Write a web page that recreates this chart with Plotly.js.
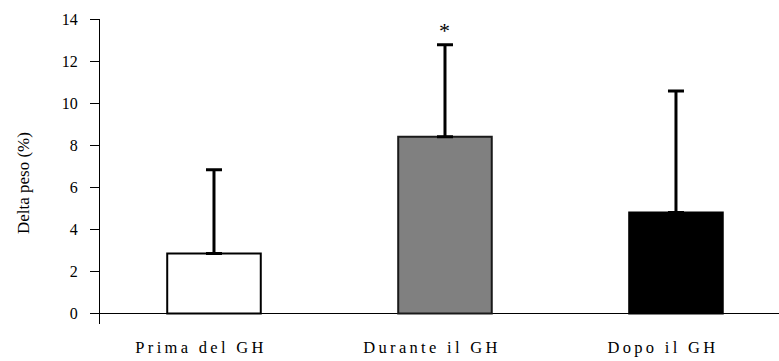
<!DOCTYPE html>
<html>
<head>
<meta charset="utf-8">
<script src="https://cdn.plot.ly/plotly-3.0.1.min.js"></script>
<style>
  html, body { margin: 0; padding: 0; background: #fff; }
  #chart { width: 779px; height: 361px; }
  .xtick text { letter-spacing: 3.3px; }
</style>
</head>
<body>
<div id="chart"></div>
<script>
const categories = ['Prima del GH', 'Durante il GH', 'Dopo il GH'];
const means = [2.85, 8.4, 4.8];
const errorsUp = [3.98, 4.37, 5.78];
const errorsDown = [0, 0, 0];
const yTicks = [0, 2, 4, 6, 8, 10, 12, 14];
const significance = ['', '*', ''];

const xIdx = categories.map((_, i) => i);
const serif = '"Liberation Serif", "Times New Roman", Times, serif';

const trace = {
  type: 'bar',
  x: xIdx,
  y: means,
  width: 0.405,
  marker: {
    color: ['#ffffff', '#808080', '#000000'],
    line: { color: ['#000000', '#1a1a1a', '#000000'], width: 2 }
  },
  error_y: {
    type: 'data',
    symmetric: false,
    array: errorsUp,
    arrayminus: errorsDown,
    color: '#000000',
    thickness: 3,
    width: 8
  },
  hoverinfo: 'none'
};

const annotations = [];
significance.forEach((s, i) => {
  if (s) {
    annotations.push({
      x: i, y: means[i] + errorsUp[i], xref: 'x', yref: 'y',
      text: s, showarrow: false, yanchor: 'bottom', yshift: 0,
      font: { family: serif, size: 22, color: '#000' }
    });
  }
});
annotations.push({
  xref: 'paper', yref: 'paper', x: 0, y: 0.462,
  xshift: -77, xanchor: 'center', yanchor: 'middle',
  text: 'Delta peso (%)', textangle: -90, showarrow: false,
  font: { family: serif, size: 17, color: '#000' }
});

const layout = {
  width: 779,
  height: 361,
  margin: { l: 100, r: 0, t: 19, b: 37, pad: 0 },
  paper_bgcolor: '#ffffff',
  plot_bgcolor: '#ffffff',
  showlegend: false,
  font: { family: serif, color: '#000' },
  xaxis: {
    range: [-0.4935, 2.446],
    tickvals: xIdx,
    ticktext: categories,
    showline: false,
    showgrid: false,
    zeroline: false,
    ticks: '',
    ticklabelshift: -13,
    ticklabelstandoff: 11,
    tickfont: { family: serif, size: 16.5, color: '#000' },
    fixedrange: true
  },
  yaxis: {
    range: [-0.5, 14],
    tickvals: yTicks,
    ticktext: yTicks.map(String),
    showline: true,
    linecolor: '#000',
    linewidth: 1,
    ticks: 'outside',
    ticklen: 9,
    tickwidth: 1,
    tickcolor: '#000',
    ticklabelstandoff: 9,
    showgrid: false,
    zeroline: true,
    zerolinecolor: '#000',
    zerolinewidth: 1,
    tickfont: { family: serif, size: 16, color: '#000' },
    fixedrange: true
  },
  annotations: annotations
};

Plotly.newPlot('chart', [trace], layout, { staticPlot: true, displayModeBar: false });
</script>
</body>
</html>
